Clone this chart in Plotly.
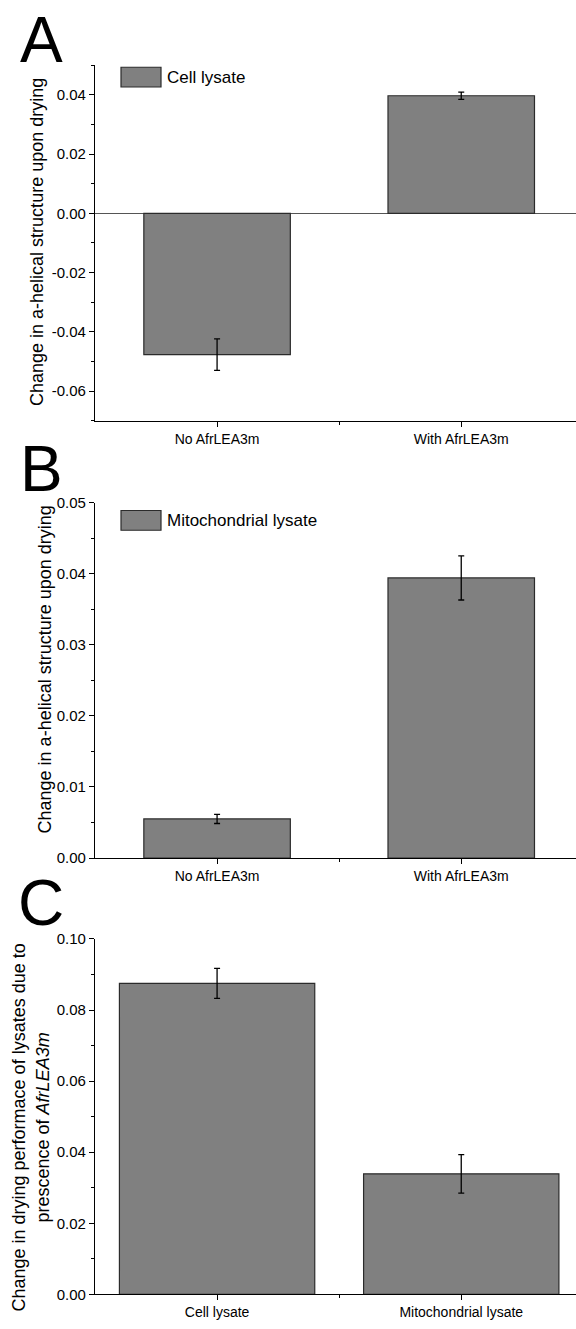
import plotly.graph_objects as go

# ---- data ----
categories_ab = ["No AfrLEA3m", "With AfrLEA3m"]
a_values = [-0.0477, 0.0397]
a_errors = [0.0053, 0.0012]
b_values = [0.0055, 0.0394]
b_errors = [0.00065, 0.0031]
categories_c = ["Cell lysate", "Mitochondrial lysate"]
c_values = [0.0875, 0.0339]
c_errors = [0.0042, 0.0054]

a_ticks = [-0.06, -0.04, -0.02, 0.00, 0.02, 0.04]
b_ticks = [0.00, 0.01, 0.02, 0.03, 0.04, 0.05]
c_ticks = [0.00, 0.02, 0.04, 0.06, 0.08, 0.10]

W, H = 576, 1329
FONT = "Liberation Sans, Arial, sans-serif"
BAR_FILL = "#808080"
BAR_LINE = "#2b2b2b"


def px_x(x):
    return x / W


def px_y(y):
    return 1 - y / H


fig = go.Figure()

panels = [
    ("x", "y", categories_ab, a_values, a_errors, 0.6),
    ("x2", "y2", categories_ab, b_values, b_errors, 0.6),
    ("x3", "y3", categories_c, c_values, c_errors, 0.8),
]
for xa, ya, cats, vals, errs, width in panels:
    fig.add_trace(go.Bar(
        x=list(range(len(cats))), y=vals, width=width,
        marker=dict(color=BAR_FILL, line=dict(color=BAR_LINE, width=1.2)),
        error_y=dict(type="data", array=errs, visible=True, color="black",
                     thickness=1.3, width=3),
        xaxis=xa, yaxis=ya, showlegend=False,
    ))

x_dom = [px_x(95), 1.0]
y_doms = [
    [px_y(417), px_y(57)],
    [px_y(860), px_y(500)],
    [px_y(1302), px_y(942)],
]
y_ranges = [[-0.07, 0.05], [0.0, 0.05], [0.0, 0.10]]
y_ticks = [a_ticks, b_ticks, c_ticks]
y_minor = [0.01, 0.005, 0.01]
x_cats = [categories_ab, categories_ab, categories_c]

axis_common = dict(showline=True, linecolor="black", linewidth=1.3,
                   ticks="outside", ticklen=5, tickwidth=1.2, tickcolor="black",
                   showgrid=False, color="black")

layout = dict(
    width=W, height=H, margin=dict(l=0, r=0, t=0, b=0),
    paper_bgcolor="white", plot_bgcolor="white",
    font=dict(family=FONT, color="black", size=13),
    showlegend=False,
)
for i in range(3):
    sx = "" if i == 0 else str(i + 1)
    anchor_y = "y" + sx
    anchor_x = "x" + sx
    layout["xaxis" + sx] = dict(
        domain=x_dom, anchor=anchor_y, range=[-0.5, 1.47],
        tickmode="array", tickvals=[0, 1], ticktext=x_cats[i],
        tickfont=dict(size=14, family=FONT),
        zeroline=False,
        minor=dict(tickmode="array", tickvals=[0.5], ticklen=3, ticks="outside",
                   tickcolor="black", tickwidth=1.2),
        **axis_common,
    )
    layout["yaxis" + sx] = dict(
        domain=y_doms[i], anchor=anchor_x, range=y_ranges[i],
        tickmode="array", tickvals=y_ticks[i],
        ticktext=[f"{v:.2f}" for v in y_ticks[i]],
        tickfont=dict(size=15, family=FONT),
        zeroline=(i == 0), zerolinecolor="#555555", zerolinewidth=1.2,
        minor=dict(dtick=y_minor[i], ticklen=3, ticks="outside",
                   tickcolor="black", tickwidth=1.2),
        **axis_common,
    )

fig.update_layout(**layout)

annotations = []
# panel letters
for letter, cy in [("A", 31.5), ("B", 465.5), ("C", 906)]:
    annotations.append(dict(
        text=letter, x=px_x(41), y=px_y(cy), xref="paper", yref="paper",
        xanchor="center", yanchor="middle", showarrow=False,
        height=54, valign="middle",
        font=dict(size=64, family=FONT, color="black"),
    ))
# y axis titles
annotations.append(dict(
    text="Change in a-helical structure upon drying",
    x=px_x(37), y=px_y(236), xref="paper", yref="paper",
    xanchor="center", yanchor="middle", textangle=-90, showarrow=False,
    font=dict(size=18, family=FONT),
))
annotations.append(dict(
    text="Change in a-helical structure upon drying",
    x=px_x(45), y=px_y(669), xref="paper", yref="paper",
    xanchor="center", yanchor="middle", textangle=-90, showarrow=False,
    font=dict(size=18, family=FONT),
))
annotations.append(dict(
    text="Change in drying performace of lysates due to<br>prescence of <i>AfrLEA3m</i>",
    x=px_x(31), y=px_y(1133), xref="paper", yref="paper",
    xanchor="center", yanchor="middle", textangle=-90, showarrow=False,
    font=dict(size=18, family=FONT),
))
# legend texts
for txt, cy in [("Cell lysate", 69), ("Mitochondrial lysate", 518)]:
    annotations.append(dict(
        text=txt, x=px_x(165), y=px_y(cy), xref="paper", yref="paper",
        xanchor="left", yanchor="middle", showarrow=False,
        font=dict(size=17, family=FONT),
    ))
fig.update_layout(annotations=annotations)

# legend swatches
shapes = []
for y0, y1 in [(59, 79), (508, 528)]:
    shapes.append(dict(
        type="rect", xref="paper", yref="paper",
        x0=px_x(121), x1=px_x(161), y0=px_y(y1), y1=px_y(y0),
        fillcolor=BAR_FILL, line=dict(color=BAR_LINE, width=1.2),
    ))
fig.update_layout(shapes=shapes)

fig.write_html(
    "out.html",
    config={"displayModeBar": False},
    post_script="document.body.style.margin='0';document.body.style.overflow='hidden';",
)
